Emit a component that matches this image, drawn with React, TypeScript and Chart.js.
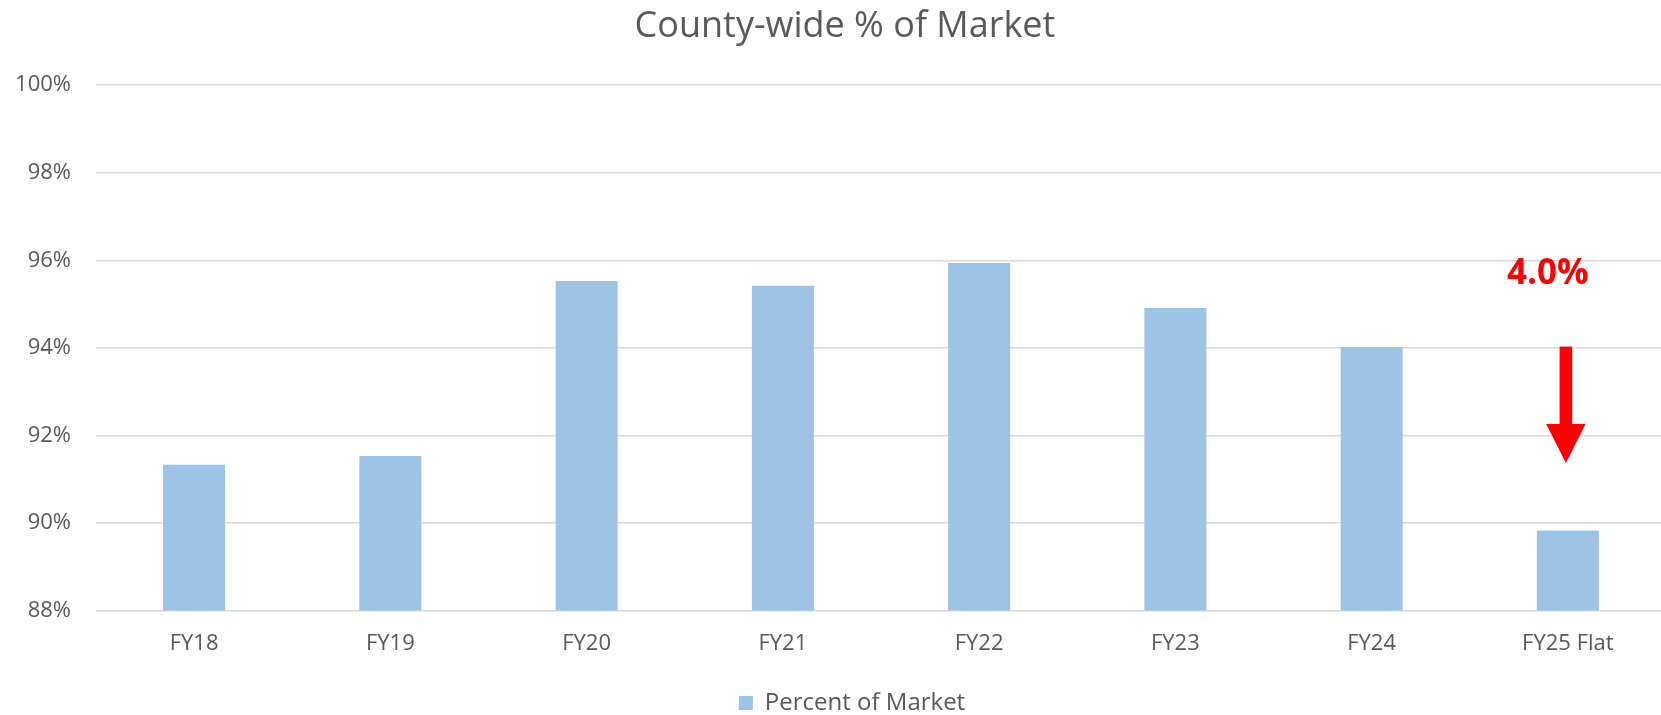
import React, { useEffect, useRef } from "react";
import { Chart, registerables } from "chart.js";

Chart.register(...registerables);

const categories = ["FY18", "FY19", "FY20", "FY21", "FY22", "FY23", "FY24", "FY25 Flat"];
const percentOfMarket = [91.33, 91.53, 95.53, 95.42, 95.94, 94.91, 94.02, 89.83];
const yTickValues = [88, 90, 92, 94, 96, 98, 100];
const annotationText = "4.0%";
const annotationTextValue = 95.47;
const arrowValues = [94.03, 91.37];
const annotationCategory = "FY25 Flat";

const FONT = "'Open Sans', 'DejaVu Sans', sans-serif";
const TEXT_COLOR = "#595959";
const BAR_COLOR = "#9DC3E6";
const GRID_COLOR = "#D9D9D9";

const dropArrowPlugin = {
  id: "dropArrow",
  afterDatasetsDraw(chart: any) {
    const { ctx, scales } = chart;
    const x = scales.x;
    const y = scales.y;
    const idx = categories.indexOf(annotationCategory);
    const cx = x.getPixelForValue(idx) - 2;
    const yTop = y.getPixelForValue(arrowValues[0]);
    const yTip = y.getPixelForValue(arrowValues[1]);
    const headLen = 39;
    const headHalf = 19.7;
    const shaftHalf = 6.3;
    ctx.save();
    ctx.fillStyle = "#FF0000";
    ctx.fillRect(cx - shaftHalf, yTop, shaftHalf * 2, yTip - headLen - yTop + 1);
    ctx.beginPath();
    ctx.moveTo(cx - headHalf, yTip - headLen);
    ctx.lineTo(cx + headHalf, yTip - headLen);
    ctx.lineTo(cx, yTip);
    ctx.closePath();
    ctx.fill();
    ctx.font = `bold 35px ${FONT}`;
    ctx.textAlign = "center";
    ctx.textBaseline = "alphabetic";
    ctx.fillText(annotationText, cx - 18, y.getPixelForValue(annotationTextValue));
    ctx.restore();
  },
};

// Excel centres its title and legend slightly right of the canvas centre.
const boxShiftPlugin = {
  id: "boxShift",
  afterLayout(chart: any) {
    const t = chart.titleBlock;
    if (t) {
      t.left += 6;
      t.right += 6;
    }
    const l = chart.legend;
    if (l) {
      l.left += 13;
      l.right += 13;
    }
  },
};

export default function App() {
  const canvasRef = useRef<HTMLCanvasElement | null>(null);

  useEffect(() => {
    document.body.style.margin = "0";
    document.body.style.overflow = "hidden";
    const canvas = canvasRef.current;
    if (!canvas) return;
    const chart = new Chart(canvas, {
      type: "bar",
      data: {
        labels: categories,
        datasets: [
          {
            label: "Percent of Market",
            data: percentOfMarket,
            backgroundColor: BAR_COLOR,
            borderWidth: 0,
            categoryPercentage: 1,
            barPercentage: 0.316,
          },
        ],
      },
      options: {
        responsive: false,
        maintainAspectRatio: false,
        animation: false,
        layout: { padding: { left: 12, right: 4, top: 0, bottom: -10 } },
        plugins: {
          title: {
            display: true,
            text: "County-wide % of Market",
            color: TEXT_COLOR,
            font: { family: FONT, size: 36, weight: "normal" },
            padding: { top: 5, bottom: 37 },
          },
          legend: {
            display: true,
            position: "bottom",
            labels: {
              color: TEXT_COLOR,
              font: { family: FONT, size: 24 },
              boxWidth: 14,
              boxHeight: 14,
              padding: 4,
            },
          },
          tooltip: { enabled: false },
        },
        scales: {
          x: {
            grid: { display: false, drawTicks: false },
            border: { display: false },
            ticks: {
              color: TEXT_COLOR,
              font: { family: FONT, size: 22 },
              padding: 20,
              maxRotation: 0,
            },
            afterFit: (scale: any) => {
              scale.height += 10;
            },
          },
          y: {
            min: yTickValues[0],
            max: yTickValues[yTickValues.length - 1],
            afterBuildTicks: (scale: any) => {
              scale.ticks = yTickValues.map((v) => ({ value: v }));
            },
            afterFit: (scale: any) => {
              scale.width = 84;
            },
            grid: { color: GRID_COLOR, lineWidth: 1.5, drawTicks: false },
            border: { display: false },
            ticks: {
              color: TEXT_COLOR,
              font: { family: FONT, size: 22 },
              padding: 25,
              callback: (v: any) => `${v}%`,
            },
          },
        },
      },
      plugins: [dropArrowPlugin, boxShiftPlugin],
    });
    return () => chart.destroy();
  }, []);

  return (
    <div style={{ position: "absolute", left: 0, top: 0, width: 1661, height: 715, overflow: "hidden" }}>
      <canvas ref={canvasRef} width={1670} height={715} style={{ display: "block" }} />
    </div>
  );
}
